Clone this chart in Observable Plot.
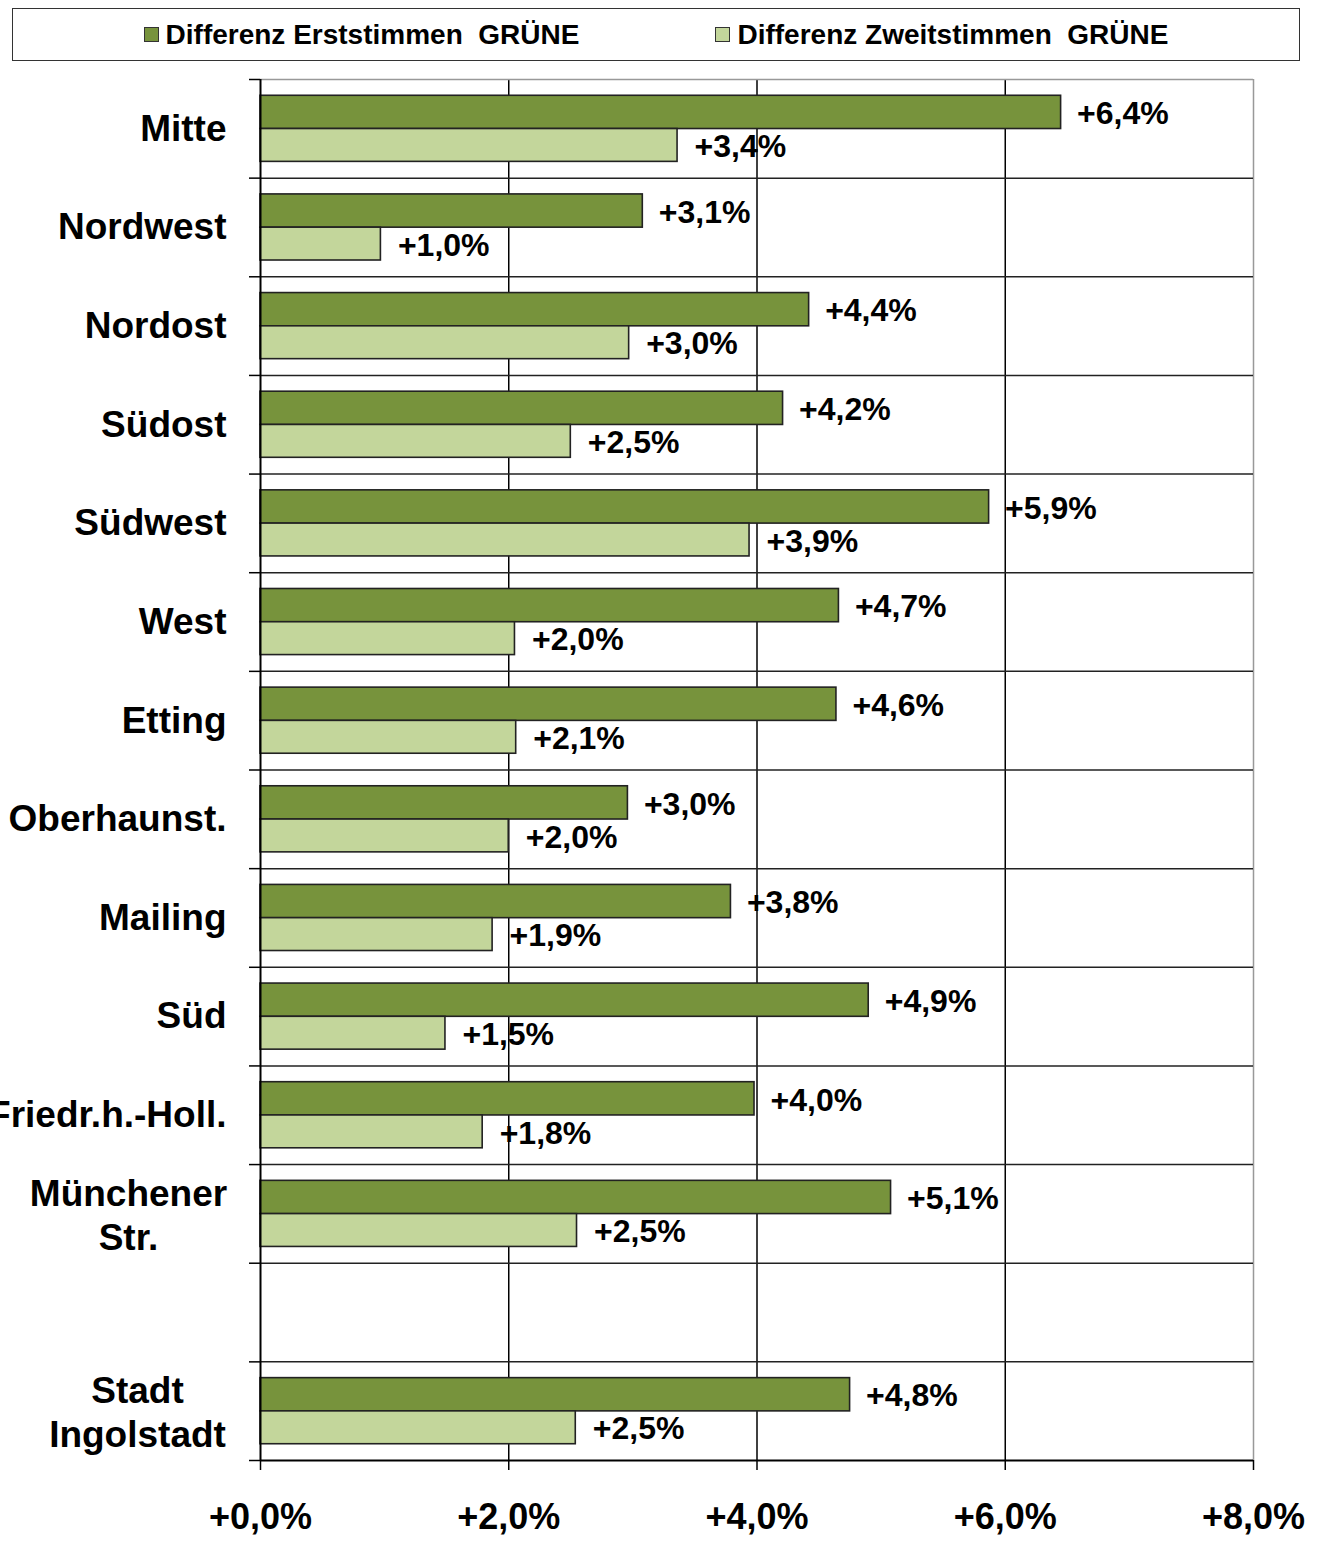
<!DOCTYPE html>
<html><head><meta charset="utf-8">
<script src="https://cdn.jsdelivr.net/npm/d3@7"></script>
<script src="https://cdn.jsdelivr.net/npm/@observablehq/plot@0.6"></script>
<style>
body{margin:0;background:#fff;font-family:"Liberation Sans",Arial,sans-serif;}
#legend{position:absolute;left:12px;top:8px;width:1286px;height:51px;border:1.5px solid #333;display:flex;justify-content:center;align-items:center;gap:136px;font-weight:bold;font-size:28px;color:#000;white-space:pre;}
.item{display:flex;align-items:center;}
.sw{width:13px;height:13px;border:1.5px solid #333;margin-right:7px;}
#chart{position:absolute;left:0;top:70px;}
</style></head>
<body>
<div id="legend"></div>
<div id="chart"></div>
<script>
const districts = ["Mitte","Nordwest","Nordost","Südost","Südwest","West","Etting","Oberhaunst.","Mailing","Süd","Friedr.h.-Holl.","Münchener\nStr.","","Stadt\nIngolstadt"];
const erst  = [6.45,3.08,4.42,4.21,5.87,4.66,4.64,2.96,3.79,4.90,3.98,5.08,null,4.75];
const zweit = [3.36,0.97,2.97,2.50,3.94,2.05,2.06,2.00,1.87,1.49,1.79,2.55,null,2.54];
const erstLabels  = ["+6,4%","+3,1%","+4,4%","+4,2%","+5,9%","+4,7%","+4,6%","+3,0%","+3,8%","+4,9%","+4,0%","+5,1%","","+4,8%"];
const zweitLabels = ["+3,4%","+1,0%","+3,0%","+2,5%","+3,9%","+2,0%","+2,1%","+2,0%","+1,9%","+1,5%","+1,8%","+2,5%","","+2,5%"];
const seriesNames = ["Differenz Erststimmen  GRÜNE","Differenz Zweitstimmen  GRÜNE"];
const seriesColors = ["#77933C","#C3D69B"];
const xTicks = [0,2,4,6,8];

// legend
const leg = document.getElementById("legend");
seriesNames.forEach((n,i)=>{
  const it=document.createElement("div");it.className="item";
  const sw=document.createElement("div");sw.className="sw";sw.style.background=seriesColors[i];
  const t=document.createElement("span");t.textContent=n;
  it.appendChild(sw);it.appendChild(t);leg.appendChild(it);
});

const rows = districts.map((d,i)=>({i, d, erst:erst[i], zweit:zweit[i], le:erstLabels[i], lz:zweitLabels[i]}));
const bars = rows.filter(r=>r.erst!=null);
const single = rows.filter(r=>r.d && !r.d.includes("\n"));
const muench = rows.filter(r=>r.d.startsWith("Münchener"));
const stadt = rows.filter(r=>r.d.startsWith("Stadt"));
const fmt = d => "+" + d.toFixed(1).replace(".",",") + "%";
const font = "Liberation Sans, Arial, sans-serif";
const bands = d3.range(0,15);

// bar slot offsets within a category band
const e1=0.165, e2=0.502, z2=0.835;

const chart = Plot.plot({
  width:1318, height:1482,
  marginTop:9, marginBottom:92, marginLeft:260, marginRight:65,
  style:{fontFamily:font, background:"#fff", color:"#000"},
  x:{type:"linear", domain:[0,8]},
  y:{type:"linear", domain:[0,14], reverse:true},
  marks:[
    Plot.gridX([2,4,6], {stroke:"#000", strokeOpacity:1, strokeWidth:1.5}),
    Plot.ruleX([8], {stroke:"#999", strokeWidth:1.5}),
    Plot.ruleY([0], {stroke:"#999", strokeWidth:1.5}),
    Plot.gridY(bands.slice(1,14), {stroke:"#222", strokeOpacity:1, strokeWidth:1.5}),
    Plot.axisY(bands, {tickSize:11, tickFormat:()=>"", stroke:"#000", strokeWidth:1.5}),
    Plot.rect(bars, {x1:0, x2:"erst", y1:d=>d.i+e1, y2:d=>d.i+e2, fill:seriesColors[0], stroke:"#222", strokeWidth:1.6}),
    Plot.rect(bars, {x1:0, x2:"zweit", y1:d=>d.i+e2, y2:d=>d.i+z2, fill:seriesColors[1], stroke:"#222", strokeWidth:1.6}),
    Plot.ruleX([0], {stroke:"#000", strokeWidth:2}),
    Plot.ruleY([14], {stroke:"#000", strokeWidth:2}),
    Plot.axisX(xTicks, {tickSize:10, tickPadding:33, tickFormat:fmt, fontSize:36, fontWeight:"bold", stroke:"#000", strokeWidth:1.5, fill:"#000"}),
    Plot.text(bars, {x:"erst", y:d=>d.i+0.5, text:"le", dx:16, dy:-15, textAnchor:"start", fontSize:32, fontWeight:"bold", fill:"#000"}),
    Plot.text(bars, {x:"zweit", y:d=>d.i+0.5, text:"lz", dx:17, dy:18, textAnchor:"start", fontSize:32, fontWeight:"bold", fill:"#000"}),
    Plot.text(single, {y:d=>d.i+0.5, text:"d", frameAnchor:"left", dx:-34, textAnchor:"end", fontSize:37, fontWeight:"bold", fill:"#000"}),
    Plot.text(muench, {y:d=>d.i+0.5, text:"d", frameAnchor:"left", dx:-132, textAnchor:"middle", lineHeight:1.18, fontSize:37, fontWeight:"bold", fill:"#000"}),
    Plot.text(stadt, {y:d=>d.i+0.5, text:"d", frameAnchor:"left", dx:-123, textAnchor:"middle", lineHeight:1.18, fontSize:37, fontWeight:"bold", fill:"#000"})
  ]
});
document.getElementById("chart").appendChild(chart);
</script>
</body></html>
